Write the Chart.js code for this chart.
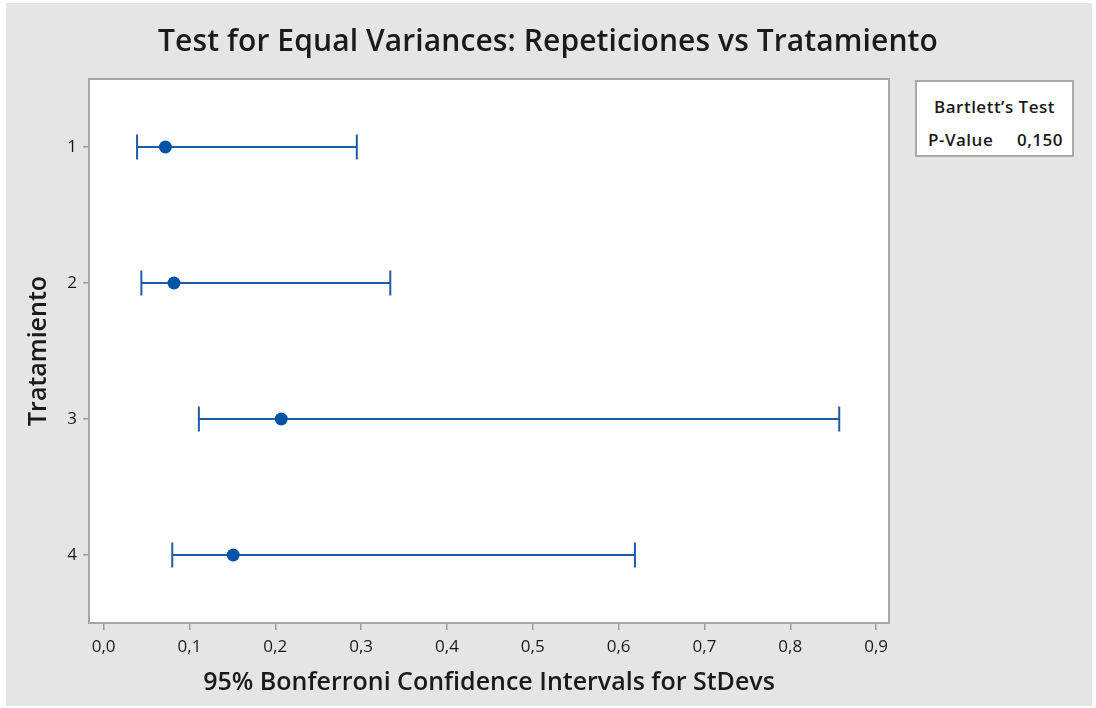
<!DOCTYPE html>
<html>
<head>
<meta charset="utf-8">
<script src="https://cdn.jsdelivr.net/npm/chart.js@4.4.1/dist/chart.umd.min.js"></script>
<style>
  html, body { margin: 0; padding: 0; width: 1096px; height: 708px; overflow: hidden; background: #ffffff; font-family: "Open Sans", sans-serif; }
  #panel { position: absolute; left: 6px; top: 3px; width: 1086px; height: 703px; background: #e5e5e5; }
  #plot { position: absolute; left: 0; top: 0; }
  #title { position: absolute; left: 0; top: 19px; width: 1096px; text-align: center; font-size: 30px; font-weight: 600; line-height: 42px; color: #1a1a1a; letter-spacing: 0.1px; }
  #stats { position: absolute; left: 915px; top: 80px; width: 155px; height: 73px; background: #ffffff; border: 2px solid #a9a9a9; color: #1a1a1a; font-size: 17px; font-weight: 600; letter-spacing: 0.5px; }
  #stats .head { position: absolute; left: 0; top: 14px; width: 155px; text-align: center; line-height: 22px; }
  #stats .lbl { position: absolute; left: 11px; top: 47px; line-height: 22px; }
  #stats .val { position: absolute; right: 9px; top: 47px; line-height: 22px; }
</style>
</head>
<body>
<div id="panel"></div>
<canvas id="plot" width="1096" height="708"></canvas>
<div id="title">Test for Equal Variances: Repeticiones vs Tratamiento</div>
<div id="stats">
  <div class="head">Bartlett’s Test</div>
  <div class="lbl">P-Value</div>
  <div class="val">0,150</div>
</div>
<script>
// Tratamiento groups, one row each
const categories = ['1', '2', '3', '4'];
const categoryPositions = [1, 2, 3, 4];

// Estimated standard deviation for each group
const stdevEstimate = [0.072, 0.082, 0.207, 0.151];
// 95% Bonferroni confidence limits for each group's StDev
const ciLower = [0.039, 0.044, 0.111, 0.080];
const ciUpper = [0.295, 0.334, 0.857, 0.619];

// Horizontal axis ticks
const xTickValues = [0, 0.1, 0.2, 0.3, 0.4, 0.5, 0.6, 0.7, 0.8, 0.9];
const xTickLabels = ['0,0', '0,1', '0,2', '0,3', '0,4', '0,5', '0,6', '0,7', '0,8', '0,9'];

const BLUE_LINE = '#1f5ba8';
const BLUE_DOT = '#0054a6';
const FONT = '"Open Sans", sans-serif';
const TEXT = '#1a1a1a';

// White plotting area with a grey frame
const plotFrame = {
  id: 'plotFrame',
  beforeDraw(chart) {
    const { ctx, chartArea: a } = chart;
    ctx.save();
    ctx.fillStyle = '#ffffff';
    ctx.fillRect(a.left, a.top, a.right - a.left, a.bottom - a.top);
    ctx.restore();
  },
  afterDraw(chart) {
    const { ctx, chartArea: a } = chart;
    ctx.save();
    ctx.strokeStyle = '#a6a6a6';
    ctx.lineWidth = 2;
    ctx.strokeRect(a.left, a.top, a.right - a.left, a.bottom - a.top);
    ctx.restore();
  }
};

const estimateSet = {
  label: 'StDev',
  data: categoryPositions.map((y, i) => ({ x: stdevEstimate[i], y })),
  pointStyle: 'circle',
  pointRadius: 6.5,
  pointBackgroundColor: BLUE_DOT,
  pointBorderColor: BLUE_DOT,
  pointBorderWidth: 0,
  showLine: false
};

const intervalSets = categoryPositions.map((y, i) => ({
  label: 'CI ' + categories[i],
  data: [{ x: ciLower[i], y }, { x: ciUpper[i], y }],
  showLine: true,
  borderColor: BLUE_LINE,
  borderWidth: 2,
  pointStyle: 'line',
  rotation: 90,
  pointRadius: 12.5,
  pointBorderColor: BLUE_LINE,
  pointBorderWidth: 2,
  fill: false,
  tension: 0
}));

new Chart(document.getElementById('plot'), {
  type: 'scatter',
  data: { datasets: [estimateSet, ...intervalSets] },
  plugins: [plotFrame],
  options: {
    responsive: false,
    animation: false,
    events: [],
    layout: { padding: { top: 79, right: 207, left: 0, bottom: 0 } },
    plugins: {
      legend: { display: false },
      tooltip: { enabled: false },
      title: { display: false }
    },
    scales: {
      x: {
        type: 'linear',
        min: -0.017,
        max: 0.915,
        afterFit(scale) { scale.height = 85; },
        afterBuildTicks(scale) { scale.ticks = xTickValues.map(v => ({ value: v })); },
        ticks: {
          autoSkip: false,
          maxRotation: 0,
          padding: 7,
          color: TEXT,
          font: { family: FONT, size: 17 },
          callback: (v, i) => xTickLabels[i]
        },
        grid: { drawOnChartArea: false, drawTicks: true, tickLength: 7, color: '#9a9a9a', lineWidth: 1.5 },
        border: { display: false },
        title: {
          display: true,
          text: '95% Bonferroni Confidence Intervals for StDevs',
          color: TEXT,
          font: { family: FONT, size: 25, weight: '600' },
          padding: { top: 0, bottom: 10 }
        }
      },
      y: {
        type: 'linear',
        reverse: true,
        min: 0.5,
        max: 4.5,
        afterFit(scale) { scale.width = 89; },
        afterBuildTicks(scale) { scale.ticks = categoryPositions.map(v => ({ value: v })); },
        ticks: {
          autoSkip: false,
          padding: 6,
          color: TEXT,
          font: { family: FONT, size: 17 },
          callback: (v, i) => categories[i]
        },
        grid: { drawOnChartArea: false, drawTicks: true, tickLength: 6, color: '#9a9a9a', lineWidth: 1.5 },
        border: { display: false },
        title: {
          display: true,
          text: 'Tratamiento',
          color: TEXT,
          font: { family: FONT, size: 25, weight: '600' },
          padding: { top: 24, bottom: 0 }
        }
      }
    }
  }
});
</script>
</body>
</html>
